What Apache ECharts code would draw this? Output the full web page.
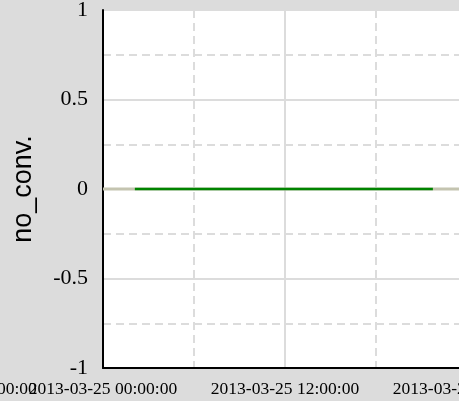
<!DOCTYPE html>
<html>
<head>
<meta charset="utf-8">
<script src="https://cdn.jsdelivr.net/npm/echarts@6/dist/echarts.min.js"></script>
<style>
  html, body { margin: 0; padding: 0; background: #dcdcdc; overflow: hidden; }
  #chart { width: 467px; height: 401px; }
</style>
</head>
<body>
<div id="chart"></div>
<script>
// data
var xStart = Date.UTC(2013, 2, 25, 0, 0, 0);
var xEnd = Date.UTC(2013, 2, 26, 0, 0, 0);
var yTicks = [-1, -0.5, 0, 0.5, 1];
// 观测值 no_conv.
var obsTimes = ["2013-03-25T02:06:00Z", "2013-03-25T06:00:00Z", "2013-03-25T12:00:00Z", "2013-03-25T18:00:00Z", "2013-03-25T21:45:00Z"];
var obsValues = [0, 0, 0, 0, 0];
// 背景参考线
var refTimes = ["2013-03-25T00:00:00Z", "2013-03-26T00:00:00Z"];
var refValues = [0, 0];

function pad(n) { return (n < 10 ? "0" : "") + n; }
function fmt(v) {
  var d = new Date(v);
  return d.getUTCFullYear() + "-" + pad(d.getUTCMonth() + 1) + "-" + pad(d.getUTCDate()) +
    " " + pad(d.getUTCHours()) + ":" + pad(d.getUTCMinutes()) + ":" + pad(d.getUTCSeconds());
}

var chart = echarts.init(document.getElementById("chart"));
var option = {
  backgroundColor: "#dcdcdc",
  animation: false,
  grid: {
    left: 103, right: 0, top: 10, bottom: 33,
    outerBoundsMode: "none",
    containLabel: false,
    show: true, backgroundColor: "#ffffff", borderWidth: 0
  },
  xAxis: {
    type: "value",
    min: xStart,
    max: xEnd,
    interval: 12 * 3600 * 1000,
    axisLine: { show: true, onZero: false, lineStyle: { color: "#000", width: 2 } },
    axisTick: { show: false },
    axisLabel: {
      margin: 12,
      color: "#000",
      fontFamily: "Liberation Serif",
      fontSize: 17.5,
      showMinLabel: true,
      showMaxLabel: true,
      hideOverlap: false,
      formatter: function (v) { return fmt(v); }
    },
    splitLine: { show: true, lineStyle: { color: "#dcdcdc", width: 2 } },
    minorTick: { show: false, splitNumber: 2 },
    minorSplitLine: { show: true, lineStyle: { color: "#dcdcdc", width: 2, type: [8, 5] } }
  },
  yAxis: {
    type: "value",
    min: yTicks[0],
    max: yTicks[yTicks.length - 1],
    interval: 0.5,
    name: "no_conv.",
    nameLocation: "middle",
    nameGap: 66,
    nameTextStyle: { color: "#000", fontFamily: "Liberation Sans", fontSize: 27 },
    axisLine: { show: true, onZero: false, lineStyle: { color: "#000", width: 2 } },
    axisTick: { show: false },
    axisLabel: { margin: 15, color: "#000", fontFamily: "Liberation Serif", fontSize: 22 },
    splitLine: { show: true, lineStyle: { color: "#dcdcdc", width: 2 } },
    minorTick: { show: false, splitNumber: 2 },
    minorSplitLine: { show: true, lineStyle: { color: "#dcdcdc", width: 2, type: [8, 5] } }
  },
  graphic: [{
    type: "text",
    x: -3, y: 380,
    style: { text: "00:00", fill: "#000", font: "17.5px 'Liberation Serif'" }
  }],
  series: [
    {
      type: "line",
      symbol: "none",
      silent: true,
      data: refTimes.map(function (t, i) { return [Date.parse(t), refValues[i]]; }),
      lineStyle: { color: "#c4c4b0", width: 3 }
    },
    {
      type: "line",
      symbol: "none",
      data: obsTimes.map(function (t, i) { return [Date.parse(t), obsValues[i]]; }),
      lineStyle: { color: "#008400", width: 2.5 }
    }
  ]
};
chart.setOption(option);
</script>
</body>
</html>
